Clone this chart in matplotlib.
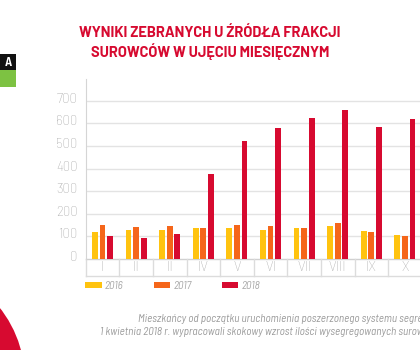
import matplotlib
matplotlib.use("Agg")
import matplotlib.pyplot as plt
import matplotlib.transforms as mtransforms
from matplotlib.patches import Circle, Rectangle
import numpy as np

months = ["I", "II", "II", "IV", "V", "VI", "VII", "VIII", "IX", "X"]
years = ["2016", "2017", "2018"]
v2016 = [118, 127, 130, 136, 137, 128, 137, 147, 124, 106]
v2017 = [150, 143, 146, 137, 150, 145, 137, 159, 119, 103]
v2018 = [102, 93, 109, 378, 523, 578, 622, 658, 583, 621]
yticks = [0, 100, 200, 300, 400, 500, 600, 700]

title1 = "WYNIKI ZEBRANYCH U ŹRÓDŁA FRAKCJI"
title2 = "SUROWCÓW W UJĘCIU MIESIĘCZNYM"
caption1 = "Mieszkańcy od początku uruchomienia poszerzonego systemu segregacji"
caption2 = "1 kwietnia 2018 r. wypracowali skokowy wzrost ilości wysegregowanych surowców."

C_YEL = "#FFC30F"
C_ORA = "#F5661A"
C_RED = "#D70A30"
GRID = "#e3e3e3"
TXT = "#a8a8a8"
FAM = ["Barlow Semi Condensed", "DejaVu Sans"]
FAMW = ["Barlow", "Barlow Semi Condensed", "DejaVu Sans"]

W, H = 420, 350
fig = plt.figure(figsize=(4.2, 3.5), dpi=100)
fig.patch.set_facecolor("white")

ax = fig.add_axes([85.7 / W, 1 - 259 / H, 336 / W, 180 / H])
ax.set_xlim(-0.5, 9.5)
ax.set_ylim(0, 796)

x = np.arange(len(months))
bw = 0.17
off = 0.225
b1 = ax.bar(x - off, v2016, bw, color=C_YEL, zorder=3, label=years[0])
b2 = ax.bar(x, v2017, bw, color=C_ORA, zorder=3, label=years[1])
b3 = ax.bar(x + off, v2018, bw, color=C_RED, zorder=3, label=years[2])

for s in ["top", "right", "bottom"]:
    ax.spines[s].set_visible(False)
ax.spines["left"].set_color("#d5d5d5")
ax.spines["left"].set_linewidth(0.8)

ax.set_yticks(yticks)
ax.set_yticklabels([str(t) for t in yticks], color=TXT, fontsize=9.5,
                   family=FAMW, fontweight="light")
ax.tick_params(axis="y", length=0, pad=6)
dy = mtransforms.ScaledTranslation(0, 3 / 100, fig.dpi_scale_trans)
for lab in ax.get_yticklabels():
    lab.set_transform(lab.get_transform() + dy)
ax.set_xticks([])
for t in yticks[1:]:
    ax.axhline(t, color=GRID, lw=1, zorder=1)

# category label row below axis
box_bottom = -17 / 180 * 796
ax.plot([-0.5, 9.5], [0, 0], color="#d0d0d0", lw=1, clip_on=False, zorder=2)
ax.plot([-0.5, 9.5], [box_bottom, box_bottom], color="#dcdcdc", lw=1, clip_on=False)
for i in range(len(months) + 1):
    ax.plot([i - 0.5, i - 0.5], [0, box_bottom], color="#dcdcdc", lw=1, clip_on=False)
for i, m in enumerate(months):
    ax.text(i, box_bottom / 2, m, ha="center", va="center", color=TXT, fontsize=9.5,
            family=FAMW, fontweight="light", clip_on=False)

# legend
leg = ax.legend(handles=[b1, b2, b3], labels=years, ncol=3, frameon=False,
                loc="center left", bbox_to_anchor=(85 / W, 1 - 286 / H),
                bbox_transform=fig.transFigure,
                prop={"style": "italic", "size": 8, "family": FAM},
                handlelength=1.5, handleheight=0.45, handletextpad=0.3,
                columnspacing=2.7, borderaxespad=0, borderpad=0)
for t in leg.get_texts():
    t.set_color(TXT)

# title
fig.text(210 / W, 1 - 33 / H, title1, ha="center", va="center", color=C_RED,
         fontsize=10.5, fontweight="bold", family=FAMW)
fig.text(210 / W, 1 - 51.7 / H, title2, ha="center", va="center", color=C_RED,
         fontsize=10.5, fontweight="bold", family=FAMW)

# caption
fig.text(138 / W, 1 - 318.7 / H, caption1, ha="left", va="center", color="#9a9a9a",
         fontsize=8, style="italic", family=FAM)
fig.text(100 / W, 1 - 331.7 / H, caption2, ha="left", va="center", color="#9a9a9a",
         fontsize=8, style="italic", family=FAM)

# decorative elements on left
fig.patches.append(Rectangle((0, 1 - 70 / H), 16 / W, 16 / H, transform=fig.transFigure,
                             facecolor="#111111", edgecolor="none"))
fig.patches.append(Rectangle((0, 1 - 87 / H), 16 / W, 17 / H, transform=fig.transFigure,
                             facecolor="#7DC242", edgecolor="none"))
fig.text(8 / W, 1 - 62 / H, "A", ha="center", va="center", color="white",
         fontsize=9, fontweight="bold", family=FAM)
circ = Circle((-92.5, H - 380.5), 117.5, transform=None, facecolor=C_RED,
              edgecolor="none")
fig.patches.append(circ)

fig.savefig("out.png", dpi=100, facecolor="white")
